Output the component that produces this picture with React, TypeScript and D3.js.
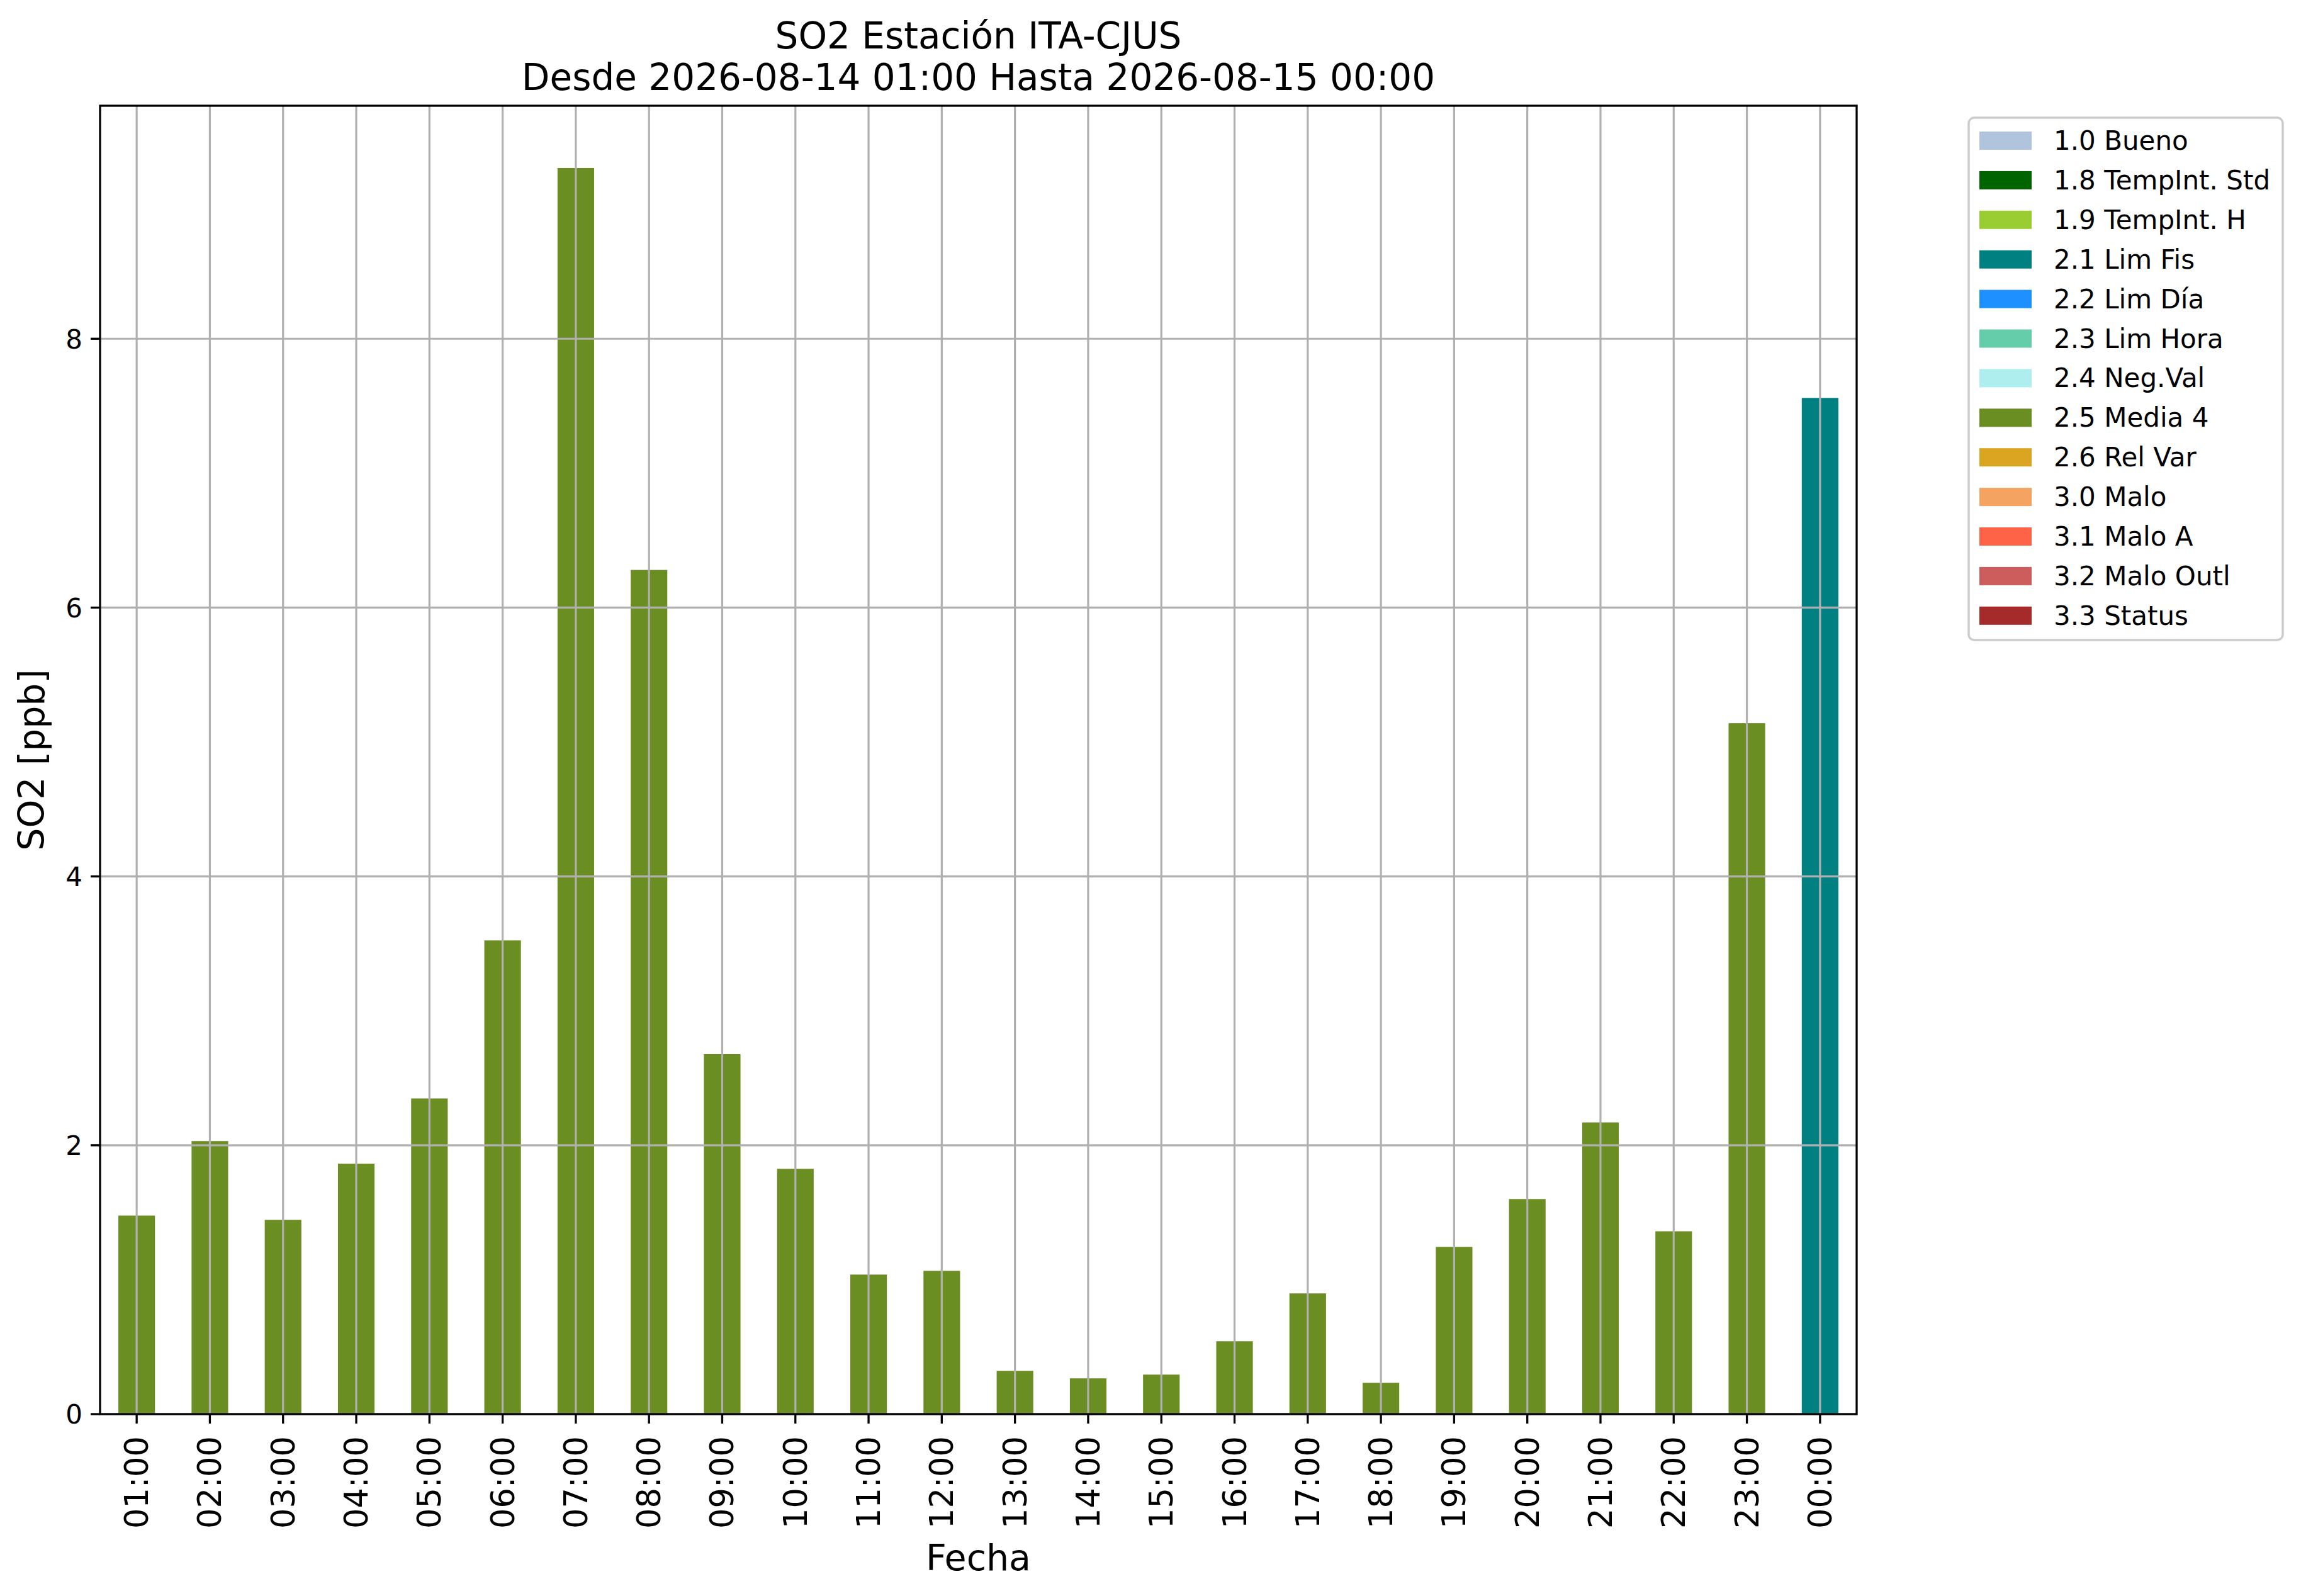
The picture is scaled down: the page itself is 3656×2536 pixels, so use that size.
import { useEffect } from "react";
import * as d3 from "d3";

// Hourly SO2 values (ppb)
const hours = [
  "01:00", "02:00", "03:00", "04:00", "05:00", "06:00", "07:00", "08:00",
  "09:00", "10:00", "11:00", "12:00", "13:00", "14:00", "15:00", "16:00",
  "17:00", "18:00", "19:00", "20:00", "21:00", "22:00", "23:00", "00:00",
];
const values = [
  1.477, 2.031, 1.445, 1.863, 2.348, 3.524, 9.27, 6.28,
  2.678, 1.825, 1.038, 1.066, 0.322, 0.266, 0.294, 0.542,
  0.898, 0.233, 1.244, 1.60, 2.17, 1.36, 5.14, 7.56,
];
// validation flag for each hour
const flags = [
  "2.5", "2.5", "2.5", "2.5", "2.5", "2.5", "2.5", "2.5",
  "2.5", "2.5", "2.5", "2.5", "2.5", "2.5", "2.5", "2.5",
  "2.5", "2.5", "2.5", "2.5", "2.5", "2.5", "2.5", "2.1",
];

const legendCodes = ["1.0", "1.8", "1.9", "2.1", "2.2", "2.3", "2.4", "2.5", "2.6", "3.0", "3.1", "3.2", "3.3"];
const legendLabels = [
  "1.0 Bueno", "1.8 TempInt. Std", "1.9 TempInt. H", "2.1 Lim Fis", "2.2 Lim Día",
  "2.3 Lim Hora", "2.4 Neg.Val", "2.5 Media 4", "2.6 Rel Var", "3.0 Malo",
  "3.1 Malo A", "3.2 Malo Outl", "3.3 Status",
];
const legendColors = [
  "#b0c4de", "#006400", "#9acd32", "#008080", "#1e90ff", "#66cdaa", "#afeeee",
  "#6b8e23", "#daa520", "#f4a460", "#ff6347", "#cd5c5c", "#a52a2a",
];
const yTicks = [0, 2, 4, 6, 8];

const W = 3656;
const H = 2536;
const FONT = "DejaVu Sans, Verdana, sans-serif";

export default function App() {
  useEffect(() => {
    document.body.style.margin = "0";
  }, []);

  const margin = { left: 159, right: 2950, top: 168, bottom: 2247 };

  const x = d3
    .scaleBand<string>()
    .domain(hours)
    .range([margin.left, margin.right])
    .paddingInner(0.5)
    .paddingOuter(0.25);

  const yMax = (d3.max(values) as number) * 1.05;
  const y = d3.scaleLinear().domain([0, yMax]).range([margin.bottom, margin.top]);

  const colorOf = d3.scaleOrdinal<string, string>().domain(legendCodes).range(legendColors);

  const cx = (h: string) => (x(h) as number) + x.bandwidth() / 2;
  const midX = (margin.left + margin.right) / 2;
  const grid = "#b0b0b0";

  // legend box
  const lg = { x: 3128, y: 187, w: 499, h: 830, row: 62.9 };

  return (
    <svg width={W} height={H} style={{ display: "block", background: "#fff" }} fontFamily={FONT}>
      <rect x={0} y={0} width={W} height={H} fill="#fff" />

      {/* bars */}
      {hours.map((h, i) => (
        <rect
          key={h}
          x={x(h)}
          y={y(values[i])}
          width={x.bandwidth()}
          height={y(0) - y(values[i])}
          fill={colorOf(flags[i])}
        />
      ))}

      {/* grid on top of bars */}
      {hours.map((h) => (
        <line key={"gx" + h} x1={cx(h)} x2={cx(h)} y1={margin.top} y2={margin.bottom} stroke={grid} strokeWidth={3.2} />
      ))}
      {yTicks.map((t) => (
        <line key={"gy" + t} x1={margin.left} x2={margin.right} y1={y(t)} y2={y(t)} stroke={grid} strokeWidth={3.2} />
      ))}

      {/* frame */}
      <rect
        x={margin.left}
        y={margin.top}
        width={margin.right - margin.left}
        height={margin.bottom - margin.top}
        fill="none"
        stroke="#000"
        strokeWidth={3.3}
      />

      {/* y ticks */}
      {yTicks.map((t) => (
        <g key={"yt" + t}>
          <line x1={margin.left - 15} x2={margin.left} y1={y(t)} y2={y(t)} stroke="#000" strokeWidth={3.3} />
          <text x={131} y={y(t) + 15.3} textAnchor="end" fontSize={42} fill="#000">
            {t}
          </text>
        </g>
      ))}

      {/* x ticks */}
      {hours.map((h) => (
        <g key={"xt" + h}>
          <line x1={cx(h)} x2={cx(h)} y1={margin.bottom} y2={margin.bottom + 15} stroke="#000" strokeWidth={3.3} />
          <text
            transform={`translate(${cx(h) + 18},${2282}) rotate(-90)`}
            textAnchor="end"
            fontSize={51}
            fill="#000"
          >
            {h}
          </text>
        </g>
      ))}

      {/* axis labels */}
      <text x={midX} y={2495} textAnchor="middle" fontSize={57} fill="#000">
        Fecha
      </text>
      <text transform={`translate(70,${(margin.top + margin.bottom) / 2}) rotate(-90)`} textAnchor="middle" fontSize={57} fill="#000">
        SO2 [ppb]
      </text>

      {/* title */}
      <text x={midX} y={77} textAnchor="middle" fontSize={58} fill="#000">
        SO2 Estación ITA-CJUS
      </text>
      <text x={midX} y={143} textAnchor="middle" fontSize={58} fill="#000">
        Desde 2026-08-14 01:00 Hasta 2026-08-15 00:00
      </text>

      {/* legend */}
      <rect
        x={lg.x}
        y={lg.y}
        width={lg.w}
        height={lg.h}
        rx={9}
        ry={9}
        fill="#fff"
        fillOpacity={0.8}
        stroke="#cccccc"
        strokeWidth={3.5}
      />
      {legendLabels.map((label, i) => (
        <g key={label} transform={`translate(0,${209 + i * lg.row})`}>
          <rect x={3145} y={0} width={83} height={29} fill={legendColors[i]} />
          <text x={3263} y={29} fontSize={42} fill="#000">
            {label}
          </text>
        </g>
      ))}
    </svg>
  );
}
